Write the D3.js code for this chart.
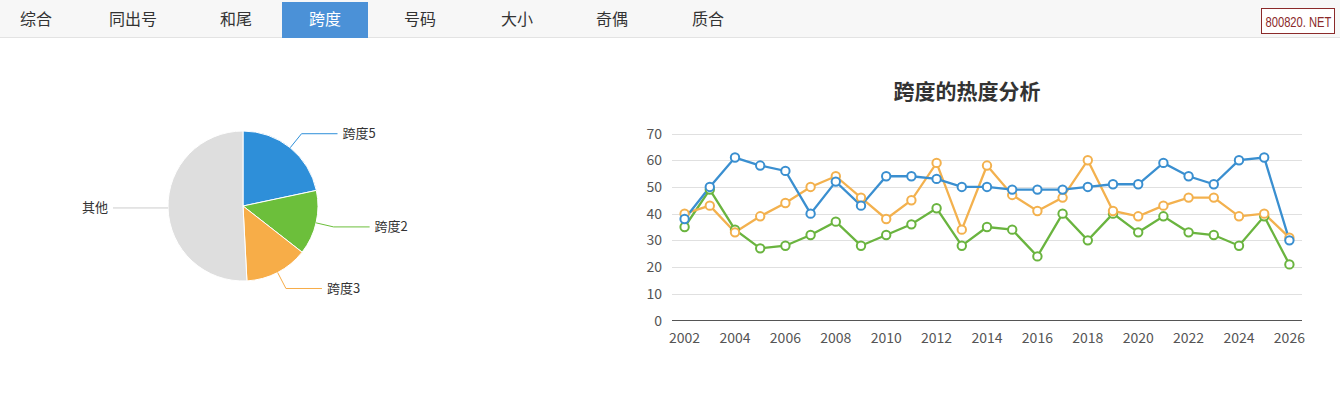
<!DOCTYPE html>
<html><head><meta charset="utf-8">
<script src="https://cdn.jsdelivr.net/npm/d3@7/dist/d3.min.js"></script>
<style>
html,body{margin:0;padding:0;background:#fff;}
body{width:1340px;height:416px;overflow:hidden;font-family:"Noto Sans CJK SC","Noto Sans",sans-serif;}
</style></head>
<body>
<svg id="c" width="1340" height="416"></svg>
<script>
const tabs = ["综合","同出号","和尾","跨度","号码","大小","奇偶","质合"];
const activeTab = "跨度";
const pieLabels = ["跨度5","跨度2","跨度3","其他"];
const pieValues = [78, 50, 49, 183];
const years = d3.range(2002, 2027);
const seriesBlue   = [38,50,61,58,56,40,52,43,54,54,53,50,50,49,49,49,50,51,51,59,54,51,60,61,30];
const seriesOrange = [40,43,33,39,44,50,54,46,38,45,59,34,58,47,41,46,60,41,39,43,46,46,39,40,31];
const seriesGreen  = [35,49,34,27,28,32,37,28,32,36,42,28,35,34,24,40,30,40,33,39,33,32,28,39,21];
const yTicks = [0,10,20,30,40,50,60,70];
const chartTitle = "跨度的热度分析";

const svg = d3.select("#c");
const font = '"Noto Sans CJK SC","Noto Sans",sans-serif';

// Tab bar
svg.append("rect").attr("x",0).attr("y",0).attr("width",1340).attr("height",37).attr("fill","#f7f7f7");
svg.append("line").attr("x1",0).attr("x2",1340).attr("y1",37.5).attr("y2",37.5).attr("stroke","#e3e3e3");
const tabCenters = [36,133,236,325,420,517,612,708];
tabs.forEach((t,i)=>{
  const act = t===activeTab;
  if(act){
    svg.append("rect").attr("x",282).attr("y",2).attr("width",86).attr("height",36).attr("fill","#4b91d7");
  }
  svg.append("text").attr("x",tabCenters[i]).attr("y",25).attr("text-anchor","middle")
    .attr("font-family",font).attr("font-size",16).attr("fill",act?"#fff":"#333").text(t);
});
// watermark
svg.append("rect").attr("x",1261.5).attr("y",8.5).attr("width",73).attr("height",25).attr("fill","#fff").attr("stroke","#8b2a2a");
svg.append("g").attr("transform","translate(1265.5,26.5) scale(0.8,1)")
  .append("text").attr("x",0).attr("y",0).attr("font-family","'Liberation Sans',sans-serif")
  .attr("font-size",14).attr("fill","#8b2a2a").text("800820. NET");

// Pie
const pieColors = ["#2e8fd9","#6cbf3b","#f7ad48","#dedede"];
const cx=243, cy=206, R=75;
const pie = d3.pie().sort(null).value(d=>d)(pieValues);
const arc = d3.arc().innerRadius(0).outerRadius(R);
const gp = svg.append("g").attr("transform",`translate(${cx},${cy})`);
gp.selectAll("path").data(pie).join("path").attr("d",arc).attr("fill",(d,i)=>pieColors[i]).attr("stroke","#fff").attr("stroke-width",1);
const lineColors = ["#2e8fd9","#6cbf3b","#f7ad48","#cccccc"];
pie.forEach((d,i)=>{
  const a = (d.startAngle+d.endAngle)/2;
  const sx = Math.sin(a)*R, sy = -Math.cos(a)*R;
  const ex = Math.sin(a)*(R+18), ey = -Math.cos(a)*(R+18);
  const right = Math.sin(a) >= 0;
  const hx = right ? ex+36 : -(R+55);
  let pts;
  if(i===3){ pts=[[sx,sy],[hx,sy]]; }
  else pts=[[sx,sy],[ex,ey],[hx,ey]];
  gp.append("polyline").attr("points",pts.map(p=>p.join(",")).join(" ")).attr("fill","none").attr("stroke",lineColors[i]).attr("stroke-width",1);
  const ly = pts[pts.length-1][1];
  gp.append("text").attr("x", right? hx+5 : hx-5).attr("y", ly+4.5).attr("text-anchor", right?"start":"end")
    .attr("font-family",font).attr("font-size",13).attr("fill","#333").text(pieLabels[i]);
});

// Line chart
const x = d3.scalePoint().domain(years).range([672,1302]).padding(0.5);
const y = d3.scaleLinear().domain([0,70]).range([320.5,133.5]);
svg.append("text").attr("x",967).attr("y",99).attr("text-anchor","middle").attr("font-family",font)
  .attr("font-size",21).attr("font-weight","bold").attr("fill","#333").text(chartTitle);
const gGrid = svg.append("g");
yTicks.forEach(t=>{
  if(t>0) gGrid.append("line").attr("x1",672).attr("x2",1302).attr("y1",Math.round(y(t))+0.5).attr("y2",Math.round(y(t))+0.5).attr("stroke","#e0e0e0");
  gGrid.append("text").attr("x",662).attr("y",y(t)+5).attr("text-anchor","end").attr("font-family",font).attr("font-size",14).attr("fill","#555").text(t);
});
svg.append("line").attr("x1",672).attr("x2",1302).attr("y1",320.5).attr("y2",320.5).attr("stroke","#555").attr("stroke-width",1.2);
years.filter(v=>v%2===0).forEach(v=>{
  svg.append("text").attr("x",x(v)).attr("y",343).attr("text-anchor","middle").attr("font-family",font).attr("font-size",14).attr("fill","#555").text(v);
});
const series = [
  {vals:seriesGreen, color:"#6ab43f"},
  {vals:seriesOrange, color:"#f3b14e"},
  {vals:seriesBlue, color:"#3a8fd0"}
];
const line = d3.line().x((d,i)=>x(years[i])).y(d=>y(d));
series.forEach(s=>{
  svg.append("path").attr("d",line(s.vals)).attr("fill","none").attr("stroke",s.color).attr("stroke-width",2.3);
});
series.forEach(s=>{
  svg.append("g").selectAll("circle").data(s.vals).join("circle")
    .attr("cx",(d,i)=>x(years[i])).attr("cy",d=>y(d)).attr("r",4.2)
    .attr("fill","#fff").attr("stroke",s.color).attr("stroke-width",2);
});
</script>
</body></html>
